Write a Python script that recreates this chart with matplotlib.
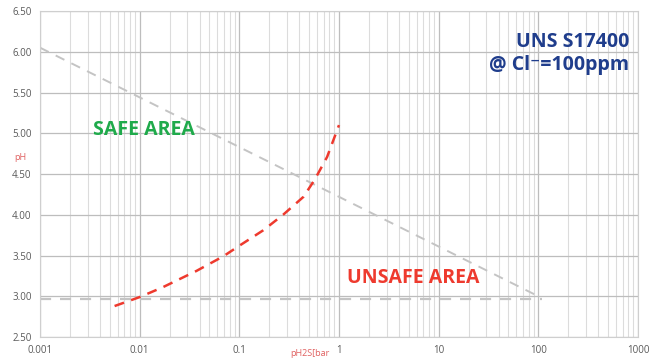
import numpy as np
import matplotlib
matplotlib.use("Agg")
from matplotlib import pyplot as plt
from matplotlib.ticker import LogLocator, FixedLocator, FuncFormatter

# limit curve (red)
p_h2s = [0.0056, 0.01, 0.017, 0.037, 0.069, 0.1, 0.174, 0.275, 0.44, 0.57, 0.76, 1.0]
ph_limit = [2.88, 2.99, 3.11, 3.31, 3.49, 3.62, 3.81, 4.0, 4.22, 4.43, 4.71, 5.1]

# grey guide lines
diag_x = [0.001, 100]
diag_y = [6.05, 3.0]
flat_x = [0.001, 110]
flat_y = [2.97, 2.97]

x_ticks = [0.001, 0.01, 0.1, 1, 10, 100, 1000]
x_labels = ["0.001", "0.01", "0.1", "1", "10", "100", "1000"]
y_ticks = [2.5, 3.0, 3.5, 4.0, 4.5, 5.0, 5.5, 6.0, 6.5]

plt.rcParams['font.family'] = ['Open Sans', 'DejaVu Sans']

fig = plt.figure(figsize=(6.53, 3.63), dpi=100)
ax = fig.add_axes([0.0613, 0.0716, 0.9157, 0.8981])

ax.set_xscale("log")
ax.set_xlim(0.001, 1000)
ax.set_ylim(2.5, 6.5)

ax.xaxis.set_major_locator(FixedLocator(x_ticks))
ax.xaxis.set_minor_locator(LogLocator(base=10, subs=np.arange(2, 10), numticks=20))
ax.xaxis.set_major_formatter(FuncFormatter(lambda v, p: x_labels[x_ticks.index(v)] if v in x_ticks else ""))
ax.xaxis.set_minor_formatter(FuncFormatter(lambda v, p: ""))
ax.yaxis.set_major_locator(FixedLocator(y_ticks))
ax.yaxis.set_major_formatter(FuncFormatter(lambda v, p: "%.2f" % v))

ax.grid(True, which="major", color="#bdbdbd", lw=0.9)
ax.grid(True, which="minor", axis="x", color="#dcdcdc", lw=0.8)
ax.tick_params(which="both", length=0, labelsize=7, colors="#595959", pad=6)
for s in ax.spines.values():
    s.set_color("#cfcfcf")
    s.set_linewidth(0.8)

ax.plot(diag_x, diag_y, color="#c4c4c4", lw=1.4, ls=(0, (5, 4)))
ax.plot(flat_x, flat_y, color="#c4c4c4", lw=1.6, ls=(0, (5, 4)))
ax.plot(p_h2s, ph_limit, color="#ee3a2e", lw=1.8, ls=(0, (4, 3)))

ax.text(0.0034, 5.04, "SAFE AREA", color="#1faa4b", fontsize=14, fontweight="bold", va="center")
ax.text(1.2, 3.22, "UNSAFE AREA", color="#ee3a2e", fontsize=14, fontweight="bold", va="center")
ax.text(0.985, 0.935, "UNS S17400\n@ Cl\u207b=100ppm", transform=ax.transAxes, ha="right", va="top",
        color="#1f3d8c", fontsize=14, fontweight="bold", linespacing=1.2)

fig.text(20 / 653, 1 - 157 / 363, "pH", color="#e06060", fontsize=6.5, ha="center", va="center")
fig.text(310 / 653, 1 - 353 / 363, "pH2S[bar", color="#e06060", fontsize=6.5, ha="center", va="center")

fig.savefig("out.png", dpi=100)
